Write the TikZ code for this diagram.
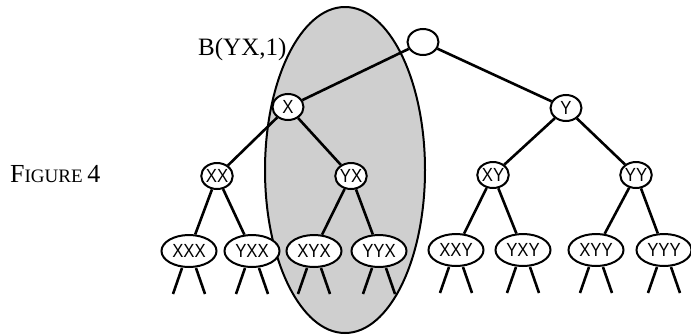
\documentclass[tikz,border=0pt]{standalone}
\usepackage{fontspec}
\setmainfont{Liberation Serif}
\newfontfamily\labfont{Liberation Sans}
\usetikzlibrary{shapes.geometric}

\tikzset{
  tnode/.style={ellipse, draw, line width=2pt, fill=white, inner sep=0pt,
    minimum width=31pt, minimum height=26pt,
    font=\labfont\fontsize{19}{19}\selectfont},
  leaf/.style={tnode, minimum width=55pt, minimum height=32pt},
  edge/.style={line width=2.6pt},
  region/.style={ellipse, draw, line width=2pt, fill=gray!38, inner sep=0pt},
  caption/.style={inner sep=0pt, anchor=base west},
}

% two short branches hanging below a leaf
\newcommand{\stubs}[1]{%
  \draw[edge] ([xshift=-7pt]#1.south) -- ++(-9,26);
  \draw[edge] ([xshift=7pt]#1.south) -- ++(9,26);
}
\newcommand{\squeeze}[1]{\scalebox{0.88}[1]{#1}}

\begin{document}
\begin{tikzpicture}[x=1pt, y=-1pt]
\useasboundingbox (0,0) rectangle (691,335);

% shaded block B(YX,1)
\node[region, minimum width=160pt, minimum height=326pt] (blk) at (345,170) {};

% tree nodes
\node[tnode] (root) at (423,42) {};
\node[tnode] (x)  at (288,107) {\squeeze{X}};
\node[tnode] (y)  at (566,108) {\squeeze{Y}};
\node[tnode] (xx) at (217,176) {\squeeze{XX}};
\node[tnode] (yx) at (351,176) {\squeeze{YX}};
\node[tnode] (xy) at (493,175) {\squeeze{XY}};
\node[tnode] (yy) at (636,175) {\squeeze{YY}};

\node[leaf] (xxx) at (189,251) {\squeeze{XXX}};
\node[leaf] (yxx) at (252,251) {\squeeze{YXX}};
\node[leaf] (xyx) at (314,251) {\squeeze{XYX}};
\node[leaf] (yyx) at (379,251) {\squeeze{YYX}};
\node[leaf] (xxy) at (456,250) {\squeeze{XXY}};
\node[leaf] (yxy) at (523,250) {\squeeze{YXY}};
\node[leaf] (xyy) at (596,250) {\squeeze{XYY}};
\node[leaf] (yyy) at (664,250) {\squeeze{YYY}};

% tree edges
\draw[edge] (root) -- (x);
\draw[edge] (root) -- (y);
\draw[edge] (x) -- (xx);
\draw[edge] (x) -- (yx);
\draw[edge] (y) -- (xy);
\draw[edge] (y) -- (yy);
\draw[edge] (xx) -- (xxx);
\draw[edge] (xx) -- (yxx);
\draw[edge] (yx) -- (xyx);
\draw[edge] (yx) -- (yyx);
\draw[edge] (xy) -- (xxy);
\draw[edge] (xy) -- (yxy);
\draw[edge] (yy) -- (xyy);
\draw[edge] (yy) -- (yyy);

\foreach \l in {xxx,yxx,xyx,yyx,xxy,yxy,xyy,yyy} {\stubs{\l}}

% captions
\node[caption] (blab) at (198,55) {\fontsize{25}{25}\selectfont B(YX,1)};
\node[caption] (fig) at (10,182)
  {\fontsize{26}{26}\selectfont F\fontsize{19}{19}\selectfont IGURE
   \fontsize{26}{26}\selectfont 4};
\end{tikzpicture}
\end{document}
